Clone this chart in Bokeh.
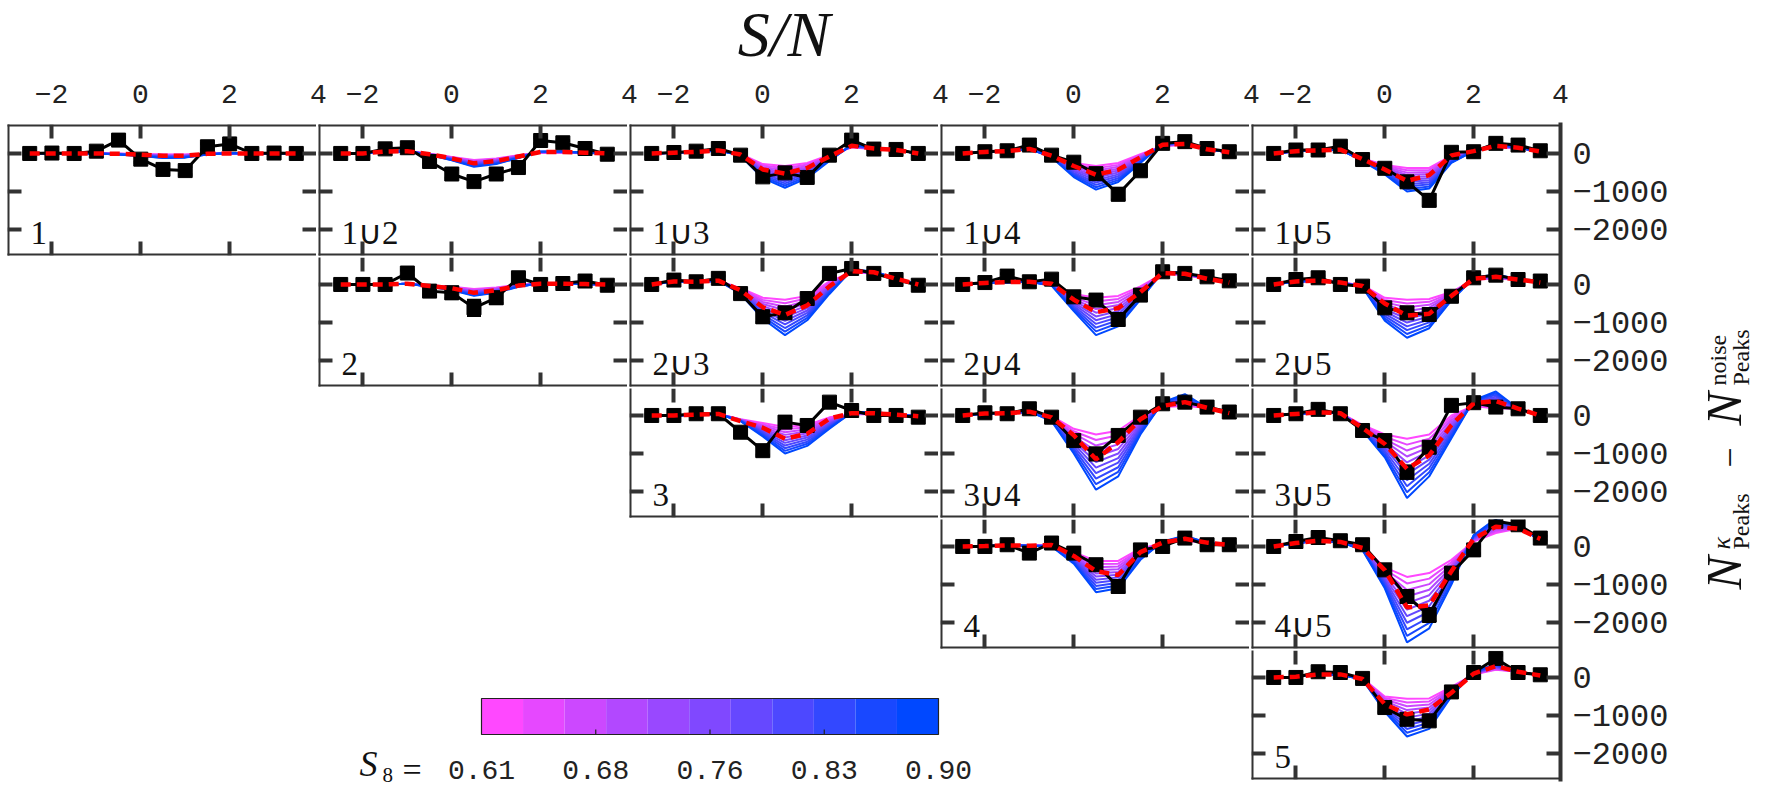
import math
from bokeh.plotting import figure
from bokeh.models import Range1d, LinearAxis, FixedTicker, GridBox
from bokeh.core.properties import value
from bokeh.embed import file_html
from bokeh.resources import INLINE

# ---------------------------------------------------------------- data
SN = [-2.5, -2.0, -1.5, -1.0, -0.5, 0.0, 0.5, 1.0, 1.5, 2.0, 2.5, 3.0, 3.5]
X_TICKS = [-2, 0, 2]
X_TOP_TICKS = [-2, 0, 2, 4]
X_TOP_LABELS = ["−2", "0", "2", "4"]
Y_TICKS = [0, -1000, -2000]
Y_TICK_LABELS = ["0", "−1000", "−2000"]
S8_MODELS = [0.61, 0.639, 0.668, 0.697, 0.726, 0.755, 0.784, 0.813, 0.842, 0.871, 0.90]
S8_TICKS = [0.61, 0.6825, 0.755, 0.8275, 0.90]
S8_LABELS = ["0.61", "0.68", "0.76", "0.83", "0.90"]
TITLE = "S/N"

# per panel: d = measured (black), e = error, f = fiducial (red dashed),
# fan = S8 model curves at S/N = -0.5 .. 2.5 (one list per S/N point, 11 S8 values each)
d_1 = [0, 10, 0, 60, 350, -150, -420, -450, 175, 250, 0, 10, 0]
e_1 = [40, 40, 40, 50, 70, 90, 110, 110, 80, 80, 50, 40, 40]
f_1 = [0, 0, 0, 0, -10, -30, -60, -60, -10, 0, 0, 0, 0]
fan_1 = [[-5, -5, -10, -10, -15, -15, -15, -20, -20, -25, -25],
         [-15, -20, -25, -30, -35, -40, -50, -55, -60, -65, -70],
         [-25, -35, -45, -55, -65, -70, -80, -90, -100, -110, -120],
         [-25, -35, -40, -50, -60, -70, -75, -85, -95, -100, -110],
         [-5, -10, -10, -10, -15, -20, -20, -20, -25, -30, -30],
         [0, 0, 0, 5, 5, 5, 5, 5, 10, 10, 10],
         [0, 0, 0, 0, 0, 5, 5, 5, 5, 5, 5]]

d_12 = [0, 0, 120, 150, -210, -540, -740, -540, -370, 340, 280, 130, -20]
e_12 = [40, 40, 50, 60, 80, 110, 130, 110, 90, 80, 60, 50, 40]
f_12 = [0, 0, 50, 60, -20, -130, -260, -200, -80, 40, 40, 20, 0]
fan_12 = [[-10, -15, -15, -20, -20, -25, -30, -30, -35, -35, -40],
          [-90, -100, -110, -120, -125, -135, -145, -155, -160, -170, -180],
          [-170, -190, -205, -225, -240, -260, -280, -295, -315, -330, -350],
          [-130, -145, -160, -175, -190, -205, -220, -235, -250, -265, -280],
          [-50, -55, -65, -70, -80, -85, -90, -100, -105, -115, -120],
          [20, 25, 25, 30, 30, 35, 40, 40, 45, 45, 50],
          [30, 32, 34, 36, 38, 40, 42, 44, 46, 48, 50]]

d_2 = [0, 0, 0, 300, -175, -220, -615, -350, 175, 0, 25, 90, -20]
e_2 = [40, 40, 50, 80, 100, 150, 200, 150, 100, 70, 60, 50, 40]
f_2 = [0, 0, 0, 20, -40, -100, -220, -150, -30, 20, 20, 10, 0]
fan_2 = [[-20, -24, -28, -32, -36, -40, -44, -48, -52, -56, -60],
         [-60, -69, -78, -87, -96, -105, -114, -123, -132, -141, -150],
         [-120, -138, -156, -174, -192, -210, -228, -246, -264, -282, -300],
         [-80, -94, -108, -122, -136, -150, -164, -178, -192, -206, -220],
         [-10, -15, -20, -25, -30, -35, -40, -45, -50, -55, -60],
         [15, 16, 18, 20, 21, 22, 24, 26, 27, 28, 30],
         [15, 16, 17, 18, 19, 20, 21, 22, 23, 24, 25]]

d_13 = [0, 25, 60, 130, -45, -615, -510, -630, -45, 350, 115, 105, 0]
e_13 = [40, 40, 50, 60, 80, 120, 130, 120, 90, 80, 60, 50, 40]
f_13 = [0, 20, 40, 80, -30, -420, -530, -380, -80, 200, 130, 90, 0]
fan_13 = [[-10, -15, -20, -25, -30, -35, -40, -45, -50, -55, -60],
          [-280, -317, -354, -391, -428, -465, -502, -539, -576, -613, -650],
          [-330, -387, -444, -501, -558, -615, -672, -729, -786, -843, -900],
          [-250, -290, -330, -370, -410, -450, -490, -530, -570, -610, -650],
          [-40, -56, -72, -88, -104, -120, -136, -152, -168, -184, -200],
          [160, 167, 174, 181, 188, 195, 202, 209, 216, 223, 230],
          [110, 114, 118, 122, 126, 130, 134, 138, 142, 146, 150]]

d_14 = [0, 45, 70, 220, -45, -230, -530, -1070, -455, 265, 310, 130, 45]
e_14 = [40, 40, 50, 60, 90, 120, 130, 150, 110, 80, 70, 50, 40]
f_14 = [0, 40, 60, 120, -60, -330, -560, -430, -100, 230, 250, 110, 30]
fan_14 = [[-30, -37, -44, -51, -58, -65, -72, -79, -86, -93, -100],
          [-250, -287, -324, -361, -398, -435, -472, -509, -546, -583, -620],
          [-330, -392, -454, -516, -578, -640, -702, -764, -826, -888, -950],
          [-250, -300, -350, -400, -450, -500, -550, -600, -650, -700, -750],
          [-20, -43, -66, -89, -112, -135, -158, -181, -204, -227, -250],
          [200, 205, 210, 215, 220, 225, 230, 235, 240, 245, 250],
          [220, 228, 236, 244, 252, 260, 268, 276, 284, 292, 300]]

d_15 = [0, 90, 90, 190, -160, -390, -745, -1230, 30, 45, 265, 220, 70]
e_15 = [40, 50, 50, 60, 90, 110, 130, 150, 120, 80, 70, 60, 50]
f_15 = [0, 60, 80, 100, -150, -420, -720, -570, -50, 60, 200, 150, 50]
fan_15 = [[-130, -137, -144, -151, -158, -165, -172, -179, -186, -193, -200],
          [-300, -325, -350, -375, -400, -425, -450, -475, -500, -525, -550],
          [-380, -442, -504, -566, -628, -690, -752, -814, -876, -938, -1000],
          [-380, -434, -488, -542, -596, -650, -704, -758, -812, -866, -920],
          [-60, -79, -98, -117, -136, -155, -174, -193, -212, -231, -250],
          [80, 78, 76, 74, 72, 70, 68, 66, 64, 62, 60],
          [150, 161, 172, 183, 194, 205, 216, 227, 238, 249, 260]]

d_23 = [0, 115, 70, 160, -240, -850, -745, -370, 290, 420, 290, 130, -20]
e_23 = [40, 50, 50, 60, 100, 150, 140, 120, 100, 90, 70, 60, 40]
f_23 = [0, 80, 70, 100, -150, -600, -800, -550, -50, 350, 320, 150, 0]
fan_23 = [[-100, -115, -130, -145, -160, -175, -190, -205, -220, -235, -250],
          [-350, -405, -460, -515, -570, -625, -680, -735, -790, -845, -900],
          [-400, -493, -586, -679, -772, -865, -958, -1051, -1144, -1237, -1330],
          [-300, -364, -428, -492, -556, -620, -684, -748, -812, -876, -940],
          [80, 47, 14, -19, -52, -85, -118, -151, -184, -217, -250],
          [320, 326, 332, 338, 344, 350, 356, 362, 368, 374, 380],
          [290, 296, 302, 308, 314, 320, 326, 332, 338, 344, 350]]

d_24 = [0, 50, 220, 70, 140, -325, -410, -920, -280, 333, 290, 200, 95]
e_24 = [40, 50, 60, 60, 90, 130, 140, 150, 110, 90, 70, 60, 50]
f_24 = [0, 40, 60, 70, 20, -400, -730, -620, -200, 300, 280, 150, 50]
fan_24 = [[30, 24, 18, 12, 6, 0, -6, -12, -18, -24, -30],
          [-250, -295, -340, -385, -430, -475, -520, -565, -610, -655, -700],
          [-350, -448, -546, -644, -742, -840, -938, -1036, -1134, -1232, -1330],
          [-300, -380, -460, -540, -620, -700, -780, -860, -940, -1020, -1100],
          [-50, -85, -120, -155, -190, -225, -260, -295, -330, -365, -400],
          [280, 285, 290, 295, 300, 305, 310, 315, 320, 325, 330],
          [250, 257, 264, 271, 278, 285, 292, 299, 306, 313, 320]]

d_25 = [0, 130, 175, 0, -45, -615, -745, -790, -310, 175, 245, 130, 90]
e_25 = [40, 50, 50, 60, 90, 130, 140, 140, 110, 80, 70, 60, 50]
f_25 = [0, 80, 100, 50, -40, -500, -820, -770, -300, 150, 200, 130, 50]
fan_25 = [[-20, -26, -32, -38, -44, -50, -56, -62, -68, -74, -80],
          [-350, -410, -470, -530, -590, -650, -710, -770, -830, -890, -950],
          [-400, -500, -600, -700, -800, -900, -1000, -1100, -1200, -1300, -1400],
          [-380, -457, -534, -611, -688, -765, -842, -919, -996, -1073, -1150],
          [-200, -222, -244, -266, -288, -310, -332, -354, -376, -398, -420],
          [130, 134, 138, 142, 146, 150, 154, 158, 162, 166, 170],
          [150, 162, 174, 186, 198, 210, 222, 234, 246, 258, 270]]

d_3 = [0, 0, 45, 45, -440, -925, -175, -263, 350, 130, 0, 0, -45]
e_3 = [40, 40, 50, 50, 90, 120, 130, 120, 100, 80, 60, 50, 40]
f_3 = [0, 0, 20, 40, -150, -320, -615, -480, -80, 60, 60, 20, -20]
fan_3 = [[-100, -105, -110, -115, -120, -125, -130, -135, -140, -145, -150],
         [-200, -235, -270, -305, -340, -375, -410, -445, -480, -515, -550],
         [-300, -370, -440, -510, -580, -650, -720, -790, -860, -930, -1000],
         [-250, -305, -360, -415, -470, -525, -580, -635, -690, -745, -800],
         [-50, -80, -110, -140, -170, -200, -230, -260, -290, -320, -350],
         [30, 35, 40, 45, 50, 55, 60, 65, 70, 75, 80],
         [30, 37, 44, 51, 58, 65, 72, 79, 86, 93, 100]]

d_34 = [0, 70, 45, 175, -45, -660, -1010, -525, -45, 307, 350, 220, 90]
e_34 = [40, 50, 50, 60, 90, 130, 150, 130, 100, 90, 80, 60, 50]
f_34 = [0, 50, 60, 100, -50, -520, -1150, -700, -100, 250, 350, 200, 60]
fan_34 = [[-20, -33, -46, -59, -72, -85, -98, -111, -124, -137, -150],
          [-350, -415, -480, -545, -610, -675, -740, -805, -870, -935, -1000],
          [-500, -645, -790, -935, -1080, -1225, -1370, -1515, -1660, -1805, -1950],
          [-400, -520, -640, -760, -880, -1000, -1120, -1240, -1360, -1480, -1600],
          [0, -50, -100, -150, -200, -250, -300, -350, -400, -450, -500],
          [220, 233, 246, 259, 272, 285, 298, 311, 324, 337, 350],
          [250, 281, 312, 343, 374, 405, 436, 467, 498, 529, 560]]

d_35 = [0, 45, 160, 45, -395, -660, -1490, -835, 265, 335, 220, 175, 0]
e_35 = [40, 50, 60, 60, 100, 130, 160, 140, 110, 90, 80, 60, 50]
f_35 = [0, 40, 80, 60, -330, -750, -1400, -1050, -250, 320, 380, 180, 0]
fan_35 = [[-250, -265, -280, -295, -310, -325, -340, -355, -370, -385, -400],
          [-500, -560, -620, -680, -740, -800, -860, -920, -980, -1040, -1100],
          [-610, -766, -922, -1078, -1234, -1390, -1546, -1702, -1858, -2014, -2170],
          [-500, -610, -720, -830, -940, -1050, -1160, -1270, -1380, -1490, -1600],
          [0, -60, -120, -180, -240, -300, -360, -420, -480, -540, -600],
          [250, 265, 280, 295, 310, 325, 340, 355, 370, 385, 400],
          [180, 225, 270, 315, 360, 405, 450, 495, 540, 585, 630]]

d_4 = [0, 0, 45, -175, 90, -175, -480, -1050, -90, 0, 220, 45, 45]
e_4 = [40, 40, 50, 60, 80, 120, 140, 150, 110, 80, 70, 50, 40]
f_4 = [0, 10, 30, 20, 40, -250, -650, -750, -150, 100, 200, 100, 40]
fan_4 = [[40, 36, 32, 28, 24, 20, 16, 12, 8, 4, 0],
         [-150, -180, -210, -240, -270, -300, -330, -360, -390, -420, -450],
         [-380, -462, -544, -626, -708, -790, -872, -954, -1036, -1118, -1200],
         [-380, -452, -524, -596, -668, -740, -812, -884, -956, -1028, -1100],
         [-50, -80, -110, -140, -170, -200, -230, -260, -290, -320, -350],
         [80, 85, 90, 95, 100, 105, 110, 115, 120, 125, 130],
         [150, 163, 176, 189, 202, 215, 228, 241, 254, 267, 280]]

d_45 = [0, 130, 235, 150, 45, -615, -1315, -1800, -700, -90, 660, 570, 220]
e_45 = [40, 50, 60, 60, 90, 130, 150, 170, 130, 100, 90, 70, 50]
f_45 = [0, 90, 150, 120, -40, -620, -1600, -1550, -650, 200, 520, 470, 200]
fan_45 = [[0, -10, -20, -30, -40, -50, -60, -70, -80, -90, -100],
          [-550, -605, -660, -715, -770, -825, -880, -935, -990, -1045, -1100],
          [-800, -972, -1144, -1316, -1488, -1660, -1832, -2004, -2176, -2348, -2520],
          [-700, -845, -990, -1135, -1280, -1425, -1570, -1715, -1860, -2005, -2150],
          [-350, -415, -480, -545, -610, -675, -740, -805, -870, -935, -1000],
          [130, 147, 164, 181, 198, 215, 232, 249, 266, 283, 300],
          [350, 388, 426, 464, 502, 540, 578, 616, 654, 692, 730]]

d_5 = [0, 0, 150, 130, -25, -790, -1100, -1140, -380, 130, 500, 130, 70]
e_5 = [40, 40, 50, 60, 80, 120, 130, 130, 100, 80, 80, 60, 50]
f_5 = [0, 20, 80, 80, -40, -700, -970, -840, -400, 100, 300, 150, 50]
fan_5 = [[-20, -24, -28, -32, -36, -40, -44, -48, -52, -56, -60],
         [-500, -540, -580, -620, -660, -700, -740, -780, -820, -860, -900],
         [-560, -659, -758, -857, -956, -1055, -1154, -1253, -1352, -1451, -1550],
         [-550, -630, -710, -790, -870, -950, -1030, -1110, -1190, -1270, -1350],
         [-250, -275, -300, -325, -350, -375, -400, -425, -450, -475, -500],
         [80, 87, 94, 101, 108, 115, 122, 129, 136, 143, 150],
         [200, 215, 230, 245, 260, 275, 290, 305, 320, 335, 350]]

PANELS = [
    ("1", 0, 0, d_1, e_1, f_1, fan_1),
    ("1∪2", 0, 1, d_12, e_12, f_12, fan_12),
    ("1∪3", 0, 2, d_13, e_13, f_13, fan_13),
    ("1∪4", 0, 3, d_14, e_14, f_14, fan_14),
    ("1∪5", 0, 4, d_15, e_15, f_15, fan_15),
    ("2", 1, 1, d_2, e_2, f_2, fan_2),
    ("2∪3", 1, 2, d_23, e_23, f_23, fan_23),
    ("2∪4", 1, 3, d_24, e_24, f_24, fan_24),
    ("2∪5", 1, 4, d_25, e_25, f_25, fan_25),
    ("3", 2, 2, d_3, e_3, f_3, fan_3),
    ("3∪4", 2, 3, d_34, e_34, f_34, fan_34),
    ("3∪5", 2, 4, d_35, e_35, f_35, fan_35),
    ("4", 3, 3, d_4, e_4, f_4, fan_4),
    ("4∪5", 3, 4, d_45, e_45, f_45, fan_45),
    ("5", 4, 4, d_5, e_5, f_5, fan_5),
]

# ---------------------------------------------------------------- style / layout
XLO, XHI = -3.0, 3.955
YLO = -2680
YHI_TOP, YHI = 760, 708          # first row frame is 2px taller (its top edge is its own)
FW, FH_TOP, FH = 309, 131, 129
RIGHT_LAB = 125
BOTTOM_PAD = 10
INK = "#333333"
TXT = "#222222"
MONO = "Liberation Mono"
SERIF = "Liberation Serif"
PALETTE = ["#%02x%02x%02x" % (round(255 * (1 - k / 10)), 72, 255) for k in range(11)]
RED = "#ff0000"
MID = 0.085   # visual centre of glyphs sits this fraction of the font size below a "middle" anchor


def style_axis(ax, line):
    ax.major_tick_in = 14
    ax.major_tick_out = 0
    ax.major_tick_line_width = 4
    ax.major_tick_line_color = INK
    ax.minor_tick_line_color = None
    ax.axis_line_color = INK if line else None
    ax.axis_line_width = 4
    ax.axis_line_cap = "square"
    ax.major_label_text_font_size = "0px"
    ax.major_label_text_color = None
    ax.major_label_standoff = 0
    ax.axis_label = None


def make_panel(label, r, c, d, e, f, fan):
    fh = FH_TOP if r == 0 else FH
    yhi = YHI_TOP if r == 0 else YHI
    p = figure(frame_width=FW, frame_height=fh,
               x_range=Range1d(XLO, XHI), y_range=Range1d(YLO, yhi),
               output_backend="svg", toolbar_location=None,
               x_axis_location=None, y_axis_location=None,
               min_border_left=2, min_border_right=(RIGHT_LAB if c == 4 else 0),
               min_border_top=(2 if r == 0 else 0),
               min_border_bottom=(BOTTOM_PAD if r == 4 else 2))
    p.outline_line_color = None
    p.xgrid.visible = False
    p.ygrid.visible = False
    p.background_fill_color = "white"
    p.border_fill_color = "white"

    ab = LinearAxis(ticker=FixedTicker(ticks=X_TICKS), fixed_location=YLO)
    style_axis(ab, True)
    p.add_layout(ab, "below")
    at = LinearAxis(ticker=FixedTicker(ticks=X_TICKS), fixed_location=yhi)
    style_axis(at, r == 0)
    p.add_layout(at, "above")
    al = LinearAxis(ticker=FixedTicker(ticks=Y_TICKS), fixed_location=XLO)
    style_axis(al, True)
    p.add_layout(al, "left")
    if c == 4:
        ar = LinearAxis(ticker=FixedTicker(ticks=Y_TICKS))
        style_axis(ar, True)
        ar.major_label_overrides = dict(zip(Y_TICKS, Y_TICK_LABELS))
        ar.major_label_text_font = MONO
        ar.major_label_text_font_size = "32px"
        ar.major_label_text_color = TXT
        ar.major_label_standoff = 12
    else:
        ar = LinearAxis(ticker=FixedTicker(ticks=Y_TICKS), fixed_location=XHI)
        style_axis(ar, False)
    p.add_layout(ar, "right")

    # S8 model fan (magenta -> blue)
    xs, ys = [], []
    for k in range(len(S8_MODELS)):
        mid = [col[k] for col in fan]
        xs.append(SN)
        ys.append(f[:4] + mid + f[11:])
    p.multi_line(xs, ys, line_color=PALETTE, line_width=2)

    # measurement with error bars
    lo = [v - s for v, s in zip(d, e)]
    hi = [v + s for v, s in zip(d, e)]
    p.segment(x0=SN, y0=lo, x1=SN, y1=hi, line_color="black", line_width=3)
    p.scatter(SN + SN, lo + hi, marker="dash", size=14, line_color="black", line_width=3)
    p.line(SN, d, line_color="black", line_width=3)
    p.scatter(SN, d, marker="square", size=14, fill_color="black", line_color="black")

    # fiducial
    p.line(SN, f, line_color=RED, line_width=4.5, line_dash="10 6")

    # panel name, anchored 23px right of the left edge, centred 20px above the bottom edge
    upp = (yhi - YLO) / fh
    p.text(x=[XLO], y=[YLO + (20 + MID * 33) * upp], text=[label], x_offset=23,
           text_font=value(SERIF), text_font_size="33px", text_color="#111111",
           text_align="left", text_baseline="middle")
    return p


children = []
for (label, r, c, d, e, f, fan) in PANELS:
    children.append((make_panel(label, r, c, d, e, f, fan), r + 1, c))

# ---------------------------------------------------------------- title + top tick labels
TW = 5 * FW + 4 * 2
TH = 82
title = figure(frame_width=TW, frame_height=TH, x_range=Range1d(0, TW), y_range=Range1d(0, TH),
               output_backend="svg", toolbar_location=None,
               x_axis_location=None, y_axis_location=None,
               min_border_left=2, min_border_right=RIGHT_LAB, min_border_top=0, min_border_bottom=40)
title.outline_line_color = None
title.xgrid.visible = False
title.ygrid.visible = False
top_ticks, top_over = [], {}
for c in range(5):
    for v, lab in zip(X_TOP_TICKS, X_TOP_LABELS):
        px = min(TW, int(round(c * (FW + 2) + (v - XLO) / (XHI - XLO) * FW)))
        top_ticks.append(px)
        top_over[px] = lab
tax = LinearAxis(ticker=FixedTicker(ticks=top_ticks), major_label_overrides=top_over)
tax.major_tick_in = 0
tax.major_tick_out = 0
tax.minor_tick_line_color = None
tax.axis_line_color = None
tax.major_label_text_font = MONO
tax.major_label_text_font_size = "28px"
tax.major_label_text_color = TXT
tax.major_label_standoff = 2
title.add_layout(tax, "below")
title.text(x=[TW / 2], y=[TH - 39 + MID * 64], text=[TITLE], text_font=value(SERIF),
           text_font_style="italic", text_font_size="64px", text_color="#111111",
           text_align="center", text_baseline="middle")
children.append((title, 0, 0, 1, 5))

# ---------------------------------------------------------------- y label (rotated)
YLW, YLH = 80, 667
ylab = figure(frame_width=YLW, frame_height=YLH, x_range=Range1d(0, YLW), y_range=Range1d(0, YLH),
              output_backend="svg", toolbar_location=None,
              x_axis_location=None, y_axis_location=None, min_border=0)
ylab.outline_line_color = None
ylab.xgrid.visible = False
ylab.ygrid.visible = False
A = math.pi / 2


def ytxt(x, y, t, size, style="normal", align="left"):
    ylab.text(x=[x], y=[y], text=[t], angle=A, text_font=value(SERIF), text_font_style=style,
              text_font_size="%dpx" % size, text_color="#111111", text_align=align,
              text_baseline="middle")


ytxt(38, 202, "N", 50, "italic")
ytxt(36, 242, "κ", 26, "italic")
ytxt(55, 242, "Peaks", 24)
ytxt(44, 334, "−", 36, "normal", "center")
ytxt(38, 366, "N", 50, "italic")
ytxt(32, 406, "noise", 24)
ytxt(55, 406, "Peaks", 24)
children.append((ylab, 1, 5, 5, 1))

# ---------------------------------------------------------------- colour bar
CBW, CBH = 4 * (FW + 2), FH + BOTTOM_PAD
k_px = (S8_TICKS[-1] - S8_TICKS[0]) / 457.0
x0 = S8_TICKS[0] - (479 - 5) * k_px
x1 = x0 + CBW * k_px
cb = figure(frame_width=CBW, frame_height=CBH, x_range=Range1d(x0, x1), y_range=Range1d(0, CBH),
            output_backend="svg", toolbar_location=None,
            x_axis_location=None, y_axis_location=None, min_border=0)
cb.outline_line_color = None
cb.xgrid.visible = False
cb.ygrid.visible = False
n = len(S8_MODELS)
step = (S8_TICKS[-1] - S8_TICKS[0]) / n
lefts = [S8_TICKS[0] + i * step for i in range(n)]
rights = [S8_TICKS[0] + (i + 1) * step for i in range(n)]
cb.quad(left=lefts, right=rights, bottom=55, top=91, fill_color=PALETTE, line_color=None)
cb.quad(left=[S8_TICKS[0]], right=[S8_TICKS[-1]], bottom=[55], top=[91], fill_color=None,
        line_color="#222222", line_width=1.2)
cb.segment(x0=S8_TICKS[1:-1], y0=55, x1=S8_TICKS[1:-1], y1=60, line_color="#222222", line_width=1.2)
cb.text(x=S8_TICKS, y=17 + MID * 28, text=S8_LABELS, text_font=value(MONO), text_font_size="28px",
        text_color=TXT, text_align="center", text_baseline="middle")
cb.text(x=[S8_TICKS[0]], y=[22 + MID * 36], text=["S"], x_offset=-122, text_font=value(SERIF),
        text_font_style="italic", text_font_size="36px", text_color="#111111",
        text_align="left", text_baseline="middle")
cb.text(x=[S8_TICKS[0]], y=[13 + MID * 21], text=["8"], x_offset=-99, text_font=value(SERIF),
        text_font_size="21px", text_color="#111111", text_align="left", text_baseline="middle")
cb.text(x=[S8_TICKS[0]], y=[20], text=["="], x_offset=-79, text_font=value(SERIF),
        text_font_size="34px", text_color="#111111", text_align="left", text_baseline="middle")
children.append((cb, 5, 0, 1, 4))

grid = GridBox(children=children, spacing=0, margin=(0, 0, 0, 5))
open("out.html", "w").write(file_html(grid, INLINE))
